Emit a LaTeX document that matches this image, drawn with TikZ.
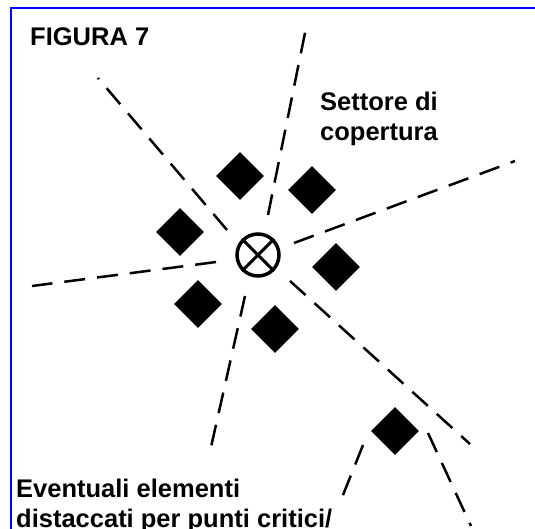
\documentclass[tikz,border=0pt]{standalone}
\usepackage{fontspec}
\setmainfont{Liberation Sans}
\usepackage{tikz}
\usetikzlibrary{shapes.geometric}

\begin{document}
\begin{tikzpicture}[
x=1pt, y=-1pt,
elem/.style={
	diamond,
	fill=black,
	inner sep=0pt,
	minimum size=48pt
},
ray/.style={
	line width=2.5pt,
	dash pattern=on 21pt off 12pt
},
label/.style={
	anchor=base west,
	inner sep=0pt,
	align=left,
	font=\fontsize{25.5}{30}\selectfont\bfseries
},
frame/.style={line width=2pt, blue}
]
\useasboundingbox (0,0) rectangle (535,529);

% frame, top and left only
\coordinate (ftop) at (535,8);
\coordinate (fcorner) at (11,8);
\coordinate (fbot) at (11,529);
\draw[frame] (ftop) -- (fcorner) -- (fbot);

\node[label] (title) at (30,46) {FIGURA 7};

% centre point
\node[circle, draw, line width=3.5pt, minimum size=42pt, inner sep=0pt] (centre) at (258,255) {};
\draw[line width=3pt] (centre.45) -- (centre.225);
\draw[line width=3pt] (centre.135) -- (centre.315);

% elements around the centre
\node[elem] (e1) at (240,176) {};
\node[elem] (e2) at (312,190) {};
\node[elem] (e3) at (180,232) {};
\node[elem] (e4) at (336,267) {};
\node[elem] (e5) at (198,304) {};
\node[elem] (e6) at (275,329) {};
\node[elem] (e7) at (395,431) {};

% sector boundaries
\coordinate (r1a) at (268,215);
\coordinate (r1b) at (306,28);
\coordinate (r2a) at (227,230);
\coordinate (r2b) at (98,78);
\coordinate (r3a) at (294,243);
\coordinate (r3b) at (515,161);
\coordinate (r4a) at (216,262);
\coordinate (r4b) at (32,286);
\coordinate (r5a) at (290,281);
\coordinate (r5b) at (470,444);
\coordinate (r6a) at (245,296);
\coordinate (r6b) at (209,456);
\coordinate (s1a) at (363,445);
\coordinate (s1b) at (341,500);
\coordinate (s2a) at (428,433);
\coordinate (s2b) at (471,526);

\draw[ray] (r1a) -- (r1b);
\draw[ray] (r2a) -- (r2b);
\draw[ray] (r3a) -- (r3b);
\draw[ray] (r4a) -- (r4b);
\draw[ray] (r5a) -- (r5b);
\draw[ray] (r6a) -- (r6b);
\draw[ray] (s1a) -- (s1b);
\draw[ray] (s2a) -- (s2b);

\node[label] (sector) at (320,141) {Settore di\\copertura};
\node[label] (detached) at (16,527) {Eventuali elementi\\distaccati per punti critici/};

\end{tikzpicture}
\end{document}
